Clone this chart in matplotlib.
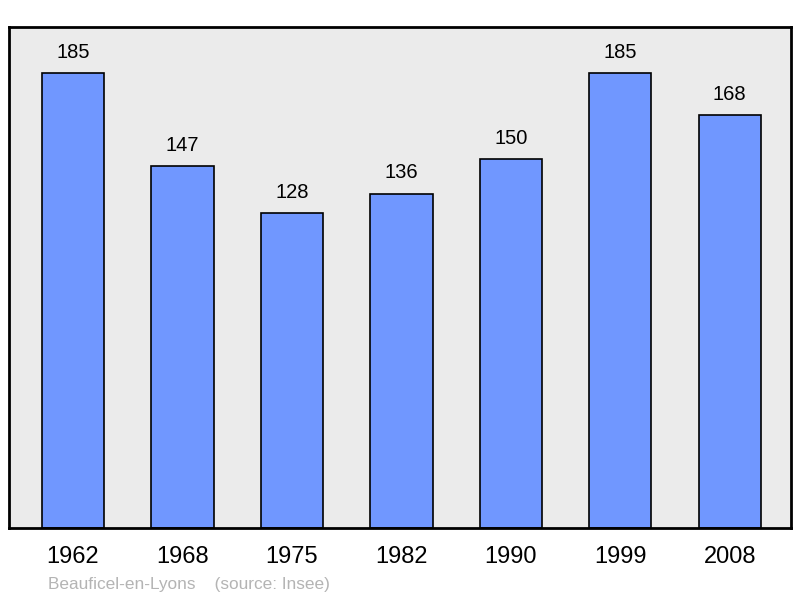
import matplotlib.pyplot as plt
import numpy as np

# donnees de population
annees = ['1962', '1968', '1975', '1982', '1990', '1999', '2008']
population = [185, 147, 128, 136, 150, 185, 168]
commune = 'Beauficel-en-Lyons'
source = '(source: Insee)'

plt.rcParams['font.family'] = ['Liberation Sans', 'DejaVu Sans']

fig = plt.figure(figsize=(8, 5.98), dpi=100)
ax = fig.add_axes([9/800, 70/598, 782/800, 501/598])
ax.set_facecolor('#ebebeb')

x = np.arange(len(annees))
ax.bar(x, population, width=0.57, color='#7097ff', edgecolor='black', linewidth=1.2, zorder=2)

for xi, v in zip(x, population):
    ax.text(xi, v + 4.5, str(v), ha='center', va='bottom', fontsize=14.5)

ax.set_xlim(-0.585, 6.56)
ax.set_ylim(0, 203.7)
ax.set_yticks([])
ax.set_xticks(x)
ax.set_xticklabels(annees, fontsize=17)
ax.tick_params(axis='x', length=0, pad=13)
for s in ax.spines.values():
    s.set_linewidth(2)

fig.text(48/800, 1 - 584/598, commune + '    ' + source, color='#b4b4b4', fontsize=12.4, va='center')

plt.savefig('out.png', dpi=100)
